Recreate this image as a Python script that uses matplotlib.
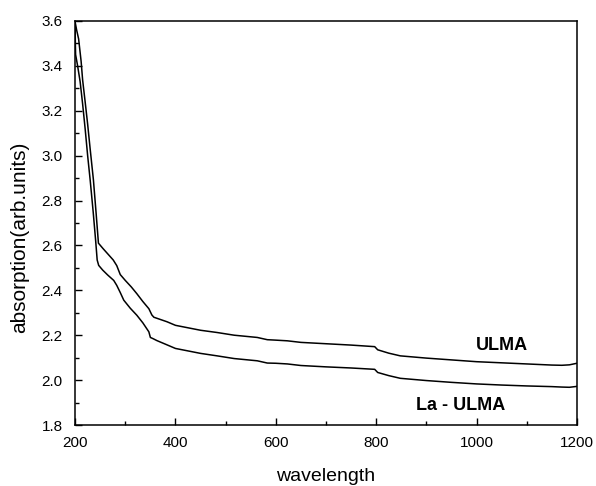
import matplotlib
matplotlib.use("Agg")
import matplotlib.pyplot as plt
from matplotlib.ticker import MultipleLocator

plt.rcParams["font.family"] = ["Liberation Sans", "DejaVu Sans"]

# ULMA (upper curve)
wl_ulma = [200, 203, 207, 212, 215, 220, 225, 230, 236.5, 242, 246.5, 256, 266, 276,
           283, 290, 300, 312, 323, 335, 347, 353, 357, 370, 383, 400, 425, 450, 483,
           517, 540, 563, 575, 583, 600, 623, 650, 700, 750, 797, 803, 825, 848, 900,
           950, 1000, 1050, 1100, 1150, 1170, 1185, 1200]
abs_ulma = [3.596, 3.56, 3.52, 3.42, 3.337, 3.24, 3.14, 3.03, 2.892, 2.74, 2.61, 2.585,
            2.56, 2.535, 2.51, 2.47, 2.444, 2.415, 2.385, 2.35, 2.318, 2.29, 2.28, 2.27,
            2.26, 2.244, 2.233, 2.222, 2.212, 2.2, 2.195, 2.19, 2.184, 2.18, 2.178, 2.175,
            2.168, 2.162, 2.156, 2.149, 2.135, 2.12, 2.108, 2.098, 2.09, 2.082, 2.077,
            2.072, 2.067, 2.066, 2.068, 2.075]

# La - ULMA (lower curve)
wl_la = [200, 200.5, 201, 205, 210, 215, 220, 225, 230, 236, 241, 244, 247, 255, 265,
         277, 283, 290, 297, 310, 323, 335, 347, 350, 355, 363, 380, 400, 425, 450, 483,
         517, 540, 563, 575, 583, 600, 623, 650, 700, 750, 797, 803, 825, 848, 900, 950,
         1000, 1050, 1100, 1150, 1170, 1185, 1200]
abs_la = [3.58, 3.5, 3.45, 3.40, 3.33, 3.23, 3.12, 3.0, 2.892, 2.75, 2.62, 2.535, 2.511,
          2.49, 2.468, 2.444, 2.422, 2.39, 2.356, 2.32, 2.289, 2.255, 2.215, 2.19, 2.185,
          2.176, 2.16, 2.141, 2.13, 2.119, 2.108, 2.096, 2.091, 2.086, 2.08, 2.076, 2.075,
          2.072, 2.065, 2.059, 2.054, 2.048, 2.034, 2.02, 2.008, 1.998, 1.99, 1.983, 1.978,
          1.974, 1.971, 1.969, 1.968, 1.972]

fig = plt.figure(figsize=(5.96, 4.86), dpi=100)
ax = fig.add_axes([0.126, 0.1255, 0.842, 0.8315])

ax.plot(wl_ulma, abs_ulma, color="black", lw=1.1)
ax.plot(wl_la, abs_la, color="black", lw=1.1)

ax.set_xlim(200, 1200)
ax.set_ylim(1.8, 3.6)
ax.xaxis.set_major_locator(MultipleLocator(200))
ax.xaxis.set_minor_locator(MultipleLocator(100))
ax.yaxis.set_major_locator(MultipleLocator(0.2))
ax.yaxis.set_minor_locator(MultipleLocator(0.1))
ax.yaxis.set_major_formatter(plt.FormatStrFormatter("%.1f"))
ax.tick_params(which="both", direction="in", top=False, right=False, labelsize=11)
ax.tick_params(which="major", length=5, width=1)
ax.tick_params(which="minor", length=3, width=1)
ax.tick_params(axis="x", which="major", pad=8)
ax.tick_params(axis="y", which="major", pad=9)
for s in ax.spines.values():
    s.set_linewidth(1.1)

ax.text(1050, 2.154, "ULMA", fontsize=13, fontweight="bold", ha="center", va="center")
ax.text(968, 1.889, "La - ULMA", fontsize=13, fontweight="bold", ha="center", va="center")

ax.set_xlabel("wavelength", fontsize=14)
ax.set_ylabel("absorption(arb.units)", fontsize=15)
ax.xaxis.set_label_coords(0.4996, -0.106)
ax.yaxis.set_label_coords(-0.092, 0.465)

fig.savefig("out.png", dpi=100)
